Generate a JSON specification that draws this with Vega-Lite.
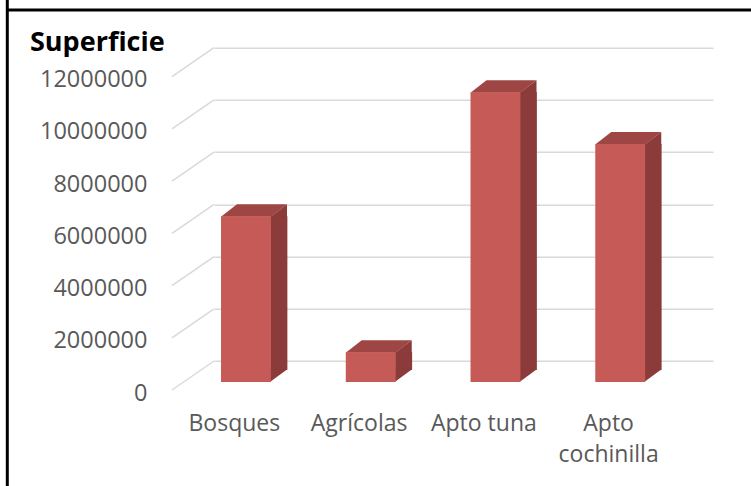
{
  "$schema": "https://vega.github.io/schema/vega-lite/v6.json",
  "width": 499,
  "height": 313.3,
  "autosize": {"type": "none"},
  "padding": {"left": 214, "top": 47.7, "right": 38, "bottom": 125},
  "background": "white",
  "config": {"view": {"stroke": null}, "font": "Open Sans"},
  "title": {
    "text": "Superficie",
    "anchor": "start",
    "frame": "group",
    "font": "Open Sans",
    "fontSize": 27,
    "fontWeight": "bold",
    "color": "black",
    "dx": -184,
    "dy": 80,
    "baseline": "alphabetic",
    "offset": 0
  },
  "datasets": {
    "bars": [
      {"cat": "Bosques", "v": 6350000},
      {"cat": "Agrícolas", "v": 1140000},
      {"cat": "Apto tuna", "v": 11100000},
      {"cat": "Apto cochinilla", "v": 9120000}
    ],
    "ticks": [
      {"t": 0}, {"t": 2000000}, {"t": 4000000}, {"t": 6000000},
      {"t": 8000000}, {"t": 10000000}, {"t": 12000000}
    ]
  },
  "layer": [
    {
      "data": {"name": "ticks"},
      "mark": {"type": "rule", "color": "#D9D9D9", "strokeWidth": 1.5, "y2Offset": 29},
      "encoding": {
        "x": {"value": 0},
        "x2": {"value": -42},
        "y": {"field": "t", "type": "quantitative", "scale": {"domain": [0, 12000000], "nice": false}},
        "y2": {"field": "t"}
      }
    },
    {
      "data": {"name": "bars"},
      "mark": {"type": "bar", "color": "#8B3B3A", "width": 17, "xOffset": 2.5, "yOffset": 21, "y2Offset": 9},
      "encoding": {
        "x": {"field": "cat", "type": "nominal", "sort": null, "scale": {"type": "band", "paddingInner": 0.6, "paddingOuter": 0.3}},
        "y": {"field": "v", "type": "quantitative"},
        "y2": {"datum": 0}
      }
    },
    {
      "data": {"name": "bars"},
      "mark": {"type": "point", "filled": true, "opacity": 1, "strokeWidth": 0, "color": "#8B3B3A", "size": 10000, "xOffset": -30.4, "yOffset": 21, "shape": "M 0.48 -0.25 L 0.82 -0.25 L 0.48 0 Z"},
      "encoding": {
        "x": {"field": "cat", "type": "nominal", "sort": null},
        "y": {"datum": 0}
      }
    },
    {
      "data": {"name": "bars"},
      "mark": {"type": "point", "filled": true, "opacity": 1, "strokeWidth": 0, "color": "#8B3B3A", "size": 10000, "xOffset": -30.4, "yOffset": 21, "shape": "M 0.48 0.02 L 0.82 -0.24 L 0.82 0.02 Z"},
      "encoding": {
        "x": {"field": "cat", "type": "nominal", "sort": null},
        "y": {"field": "v", "type": "quantitative"}
      }
    },
    {
      "data": {"name": "bars"},
      "mark": {"type": "point", "filled": true, "opacity": 1, "strokeWidth": 0, "color": "#9E4643", "size": 10000, "xOffset": -30.4, "yOffset": 21, "shape": "M -0.5 0.01 L 0.5 0.01 L 0.82 -0.24 L -0.18 -0.24 Z"},
      "encoding": {
        "x": {"field": "cat", "type": "nominal", "sort": null},
        "y": {"field": "v", "type": "quantitative"}
      }
    },
    {
      "data": {"name": "bars"},
      "mark": {"type": "bar", "color": "#C55A57", "xOffset": -30.4, "yOffset": 21, "y2Offset": 21},
      "encoding": {
        "x": {
          "field": "cat", "type": "nominal", "sort": null,
          "axis": {
            "title": null, "domain": false, "ticks": false, "grid": false,
            "labelOffset": -42, "labelPadding": 69, "labelBaseline": "alphabetic",
            "labelAlign": "center",
            "labelFont": "Open Sans", "labelFontSize": 23, "labelColor": "#595959",
            "labelAngle": 0, "labelOverlap": false, "labelFlush": false, "labelLimit": 300,
            "labelLineHeight": 31,
            "labelExpr": "datum.value == 'Apto cochinilla' ? ['Apto', 'cochinilla'] : datum.value"
          }
        },
        "y": {
          "field": "v", "type": "quantitative",
          "axis": {
            "title": null, "domain": false, "ticks": false, "grid": true,
            "gridColor": "#D9D9D9", "gridWidth": 1.5,
            "values": [0, 2000000, 4000000, 6000000, 8000000, 10000000, 12000000],
            "format": "d", "labelOffset": 32, "labelPadding": 67,
            "labelFont": "Open Sans", "labelFontSize": 23.5, "labelColor": "#595959"
          }
        },
        "y2": {"datum": 0}
      }
    },
    {
      "data": {"values": [{}]},
      "mark": {"type": "rule", "color": "black", "strokeWidth": 3},
      "encoding": {
        "x": {"value": -206.7},
        "y": {"value": -48},
        "y2": {"value": 438.3}
      }
    },
    {
      "data": {"values": [{}]},
      "mark": {"type": "rule", "color": "black", "strokeWidth": 3},
      "encoding": {
        "x": {"value": -208},
        "x2": {"value": 537},
        "y": {"value": -37.7}
      }
    }
  ]
}
